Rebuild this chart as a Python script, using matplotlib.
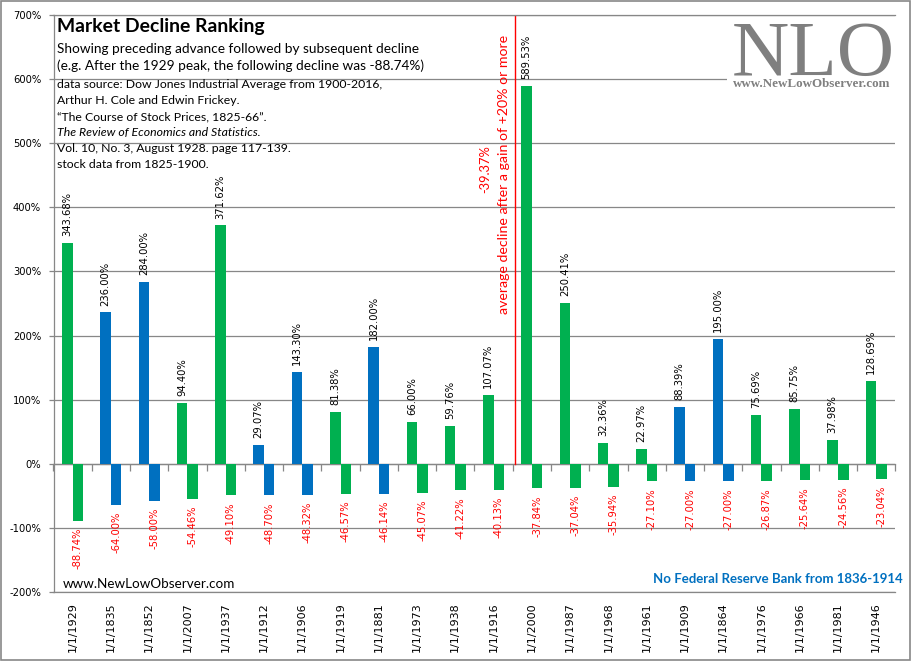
import matplotlib
matplotlib.use("Agg")
import matplotlib.pyplot as plt
import numpy as np
from matplotlib.patches import Rectangle

# ---------------- data ----------------
years = ["1929", "1835", "1852", "2007", "1937", "1912", "1906", "1919", "1881", "1973", "1938",
         "1916", "2000", "1987", "1968", "1961", "1909", "1864", "1976", "1966", "1981", "1946"]
advance = [343.68, 236.00, 284.00, 94.40, 371.62, 29.07, 143.30, 81.38, 182.00, 66.00, 59.76,
           107.07, 589.53, 250.41, 32.36, 22.97, 88.39, 195.00, 75.69, 85.75, 37.98, 128.69]
decline = [-88.74, -64.00, -58.00, -54.46, -49.10, -48.70, -48.32, -46.57, -46.14, -45.07, -41.22,
           -40.13, -37.84, -37.04, -35.94, -27.10, -27.00, -27.00, -26.87, -25.64, -24.56, -23.04]
no_fed = [False, True, True, False, False, True, True, False, True, False, False,
          False, False, False, False, False, True, True, False, False, False, False]
y_ticks = [-200, -100, 0, 100, 200, 300, 400, 500, 600, 700]
avg_decline = -39.37
n_before_line = 12

x_labels = ["1/1/" + y for y in years]

GREEN = "#00B050"
BLUE = "#0070C0"
RED = "#FF0000"
GRAY = "#878787"

W, H = 911, 661
fig = plt.figure(figsize=(W / 100, H / 100), dpi=100)
fig.patch.set_facecolor("white")


def P(x, y):
    return (x / W, 1 - y / H)


ax = fig.add_axes([53.5 / W, (H - 592.3) / H, (895.4 - 53.5) / W, (592.3 - 14.7) / H])
renderer = fig.canvas.get_renderer()


def fit(t, target, dim="w"):
    bb = t.get_window_extent(renderer)
    cur = bb.width if dim == "w" else bb.height
    t.set_fontsize(t.get_fontsize() * target / cur)


x = np.arange(len(years))
colors = [BLUE if b else GREEN for b in no_fed]
bw = 0.275
ax.bar(x - bw / 2, advance, bw, color=colors, zorder=3)
ax.bar(x + bw / 2, decline, bw, color=colors, zorder=3)

for xi, a, d in zip(x, advance, decline):
    ax.annotate(f"{a:.2f}%", (xi - bw / 2, a), xytext=(0, 5), textcoords="offset points",
                rotation=90, ha="center", va="bottom", fontsize=7.2, color="black",
                family="DejaVu Sans", zorder=4)
    ax.annotate(f"{d:.2f}%", (xi + bw / 2, d), xytext=(0, -5), textcoords="offset points",
                rotation=90, ha="center", va="top", fontsize=7.2, color=RED,
                family="DejaVu Sans", zorder=4)

ax.set_xlim(-0.5, len(years) - 0.5)
ax.set_ylim(y_ticks[0], y_ticks[-1])
ax.set_yticks(y_ticks)
ax.set_yticklabels([f"{v}%" for v in y_ticks])
ax.set_xticks(x)
ax.set_xticklabels(x_labels, rotation=90, ha="center", va="top")
ax.tick_params(axis="x", length=0, pad=7, labelsize=8, labelcolor="black")
ax.tick_params(axis="y", length=3.5, width=0.9, color=GRAY, pad=5.5, labelsize=7.2,
               labelcolor="black")
for lab in ax.get_xticklabels() + ax.get_yticklabels():
    lab.set_family("DejaVu Sans")

ax.set_axisbelow(True)
ax.yaxis.grid(True, color=GRAY, linewidth=0.9)
ax.xaxis.grid(False)
for s in ["left", "bottom", "top"]:
    ax.spines[s].set_color(GRAY)
    ax.spines[s].set_linewidth(0.9)
ax.spines["right"].set_visible(False)

# zero axis with category-boundary ticks
sec = ax.secondary_xaxis((0 - y_ticks[0]) / (y_ticks[-1] - y_ticks[0]))
sec.set_xticks(np.arange(-0.5, len(years)))
sec.tick_params(axis="x", direction="out", length=5, width=0.9, color=GRAY, labelbottom=False)
sec.spines["bottom"].set_color(GRAY)
sec.spines["bottom"].set_linewidth(0.9)

# red divider
xl = n_before_line - 0.45
ax.plot([xl, xl], [0, y_ticks[-1]], color=RED, lw=1.0, zorder=2)

# logo background covering gridline
fig.patches.append(Rectangle(P(727, 92), (895 - 727) / W, (92 - 17) / H,
                             transform=fig.transFigure, facecolor="white", edgecolor="none",
                             zorder=5))

# ---------------- header text ----------------
t = fig.text(*P(57, 31.7), "Market Decline Ranking", family="Lato", weight="bold",
             fontsize=14, va="baseline", ha="left")
fit(t, 210)
t = fig.text(*P(57, 53.3), "Showing preceding advance followed by subsequent decline",
             family="Lato", fontsize=11, va="baseline", ha="left")
fit(t, 361)
sub_size = t.get_fontsize()
t = fig.text(*P(57, 70.3), "(e.g. After the 1929 peak, the following decline was -88.74%)",
             family="Lato", fontsize=sub_size, va="baseline", ha="left")

src_lines = [
    ("data source: Dow Jones Industrial Average from 1900-2016,", 88.3, "normal"),
    ("Arthur H. Cole and Edwin Frickey.", 104.0, "normal"),
    ("\u201cThe Course of Stock Prices, 1825-66\u201d.", 120.0, "normal"),
    ("The Review of Economics and Statistics.", 135.7, "italic"),
    ("Vol. 10, No. 3, August 1928. page 117-139.", 152.3, "normal"),
    ("stock data from 1825-1900.", 168.3, "normal"),
]
src_size = None
for txt, yy, style in src_lines:
    t = fig.text(*P(57, yy), txt, family="Lato", style=style, fontsize=src_size or 9,
                 va="baseline", ha="left")
    if src_size is None:
        fit(t, 325)
        src_size = t.get_fontsize()

# red rotated annotation
t = fig.text(*P(485.5, 169), f"{avg_decline:.2f}%", family="Lato", color=RED, rotation=90,
             ha="center", va="center", fontsize=11)
fit(t, 48, "h")
t = fig.text(*P(503.5, 174), "average decline after a gain of +20% or more", family="Lato",
             color=RED, rotation=90, ha="center", va="center", fontsize=11)
fit(t, 278, "h")

# logo
t = fig.text(*P(731.5, 75), "NLO", family="Liberation Serif", color="#7F7F7F", fontsize=57,
             ha="left", va="baseline", zorder=6)
fit(t, 163)
t = fig.text(*P(733, 87), "www.NewLowObserver.com", family="Liberation Serif", weight="bold",
             color="#7F7F7F", fontsize=8, ha="left", va="baseline", zorder=6)
fit(t, 157)

# bottom texts
t = fig.text(*P(62.7, 588), "www.NewLowObserver.com", family="Lato", fontsize=11,
             ha="left", va="baseline")
fit(t, 172)
t = fig.text(*P(653, 582.7), "No Federal Reserve Bank from 1836-1914", family="Lato",
             weight="bold", color=BLUE, fontsize=11, ha="left", va="baseline")
fit(t, 249)

# outer border
fig.patches.append(Rectangle((0.6 / W, 0.6 / H), 1 - 1.2 / W, 1 - 1.2 / H,
                             transform=fig.transFigure, fill=False, edgecolor=GRAY, lw=1.2,
                             zorder=10))

fig.savefig("out.png", dpi=100, facecolor="white")
